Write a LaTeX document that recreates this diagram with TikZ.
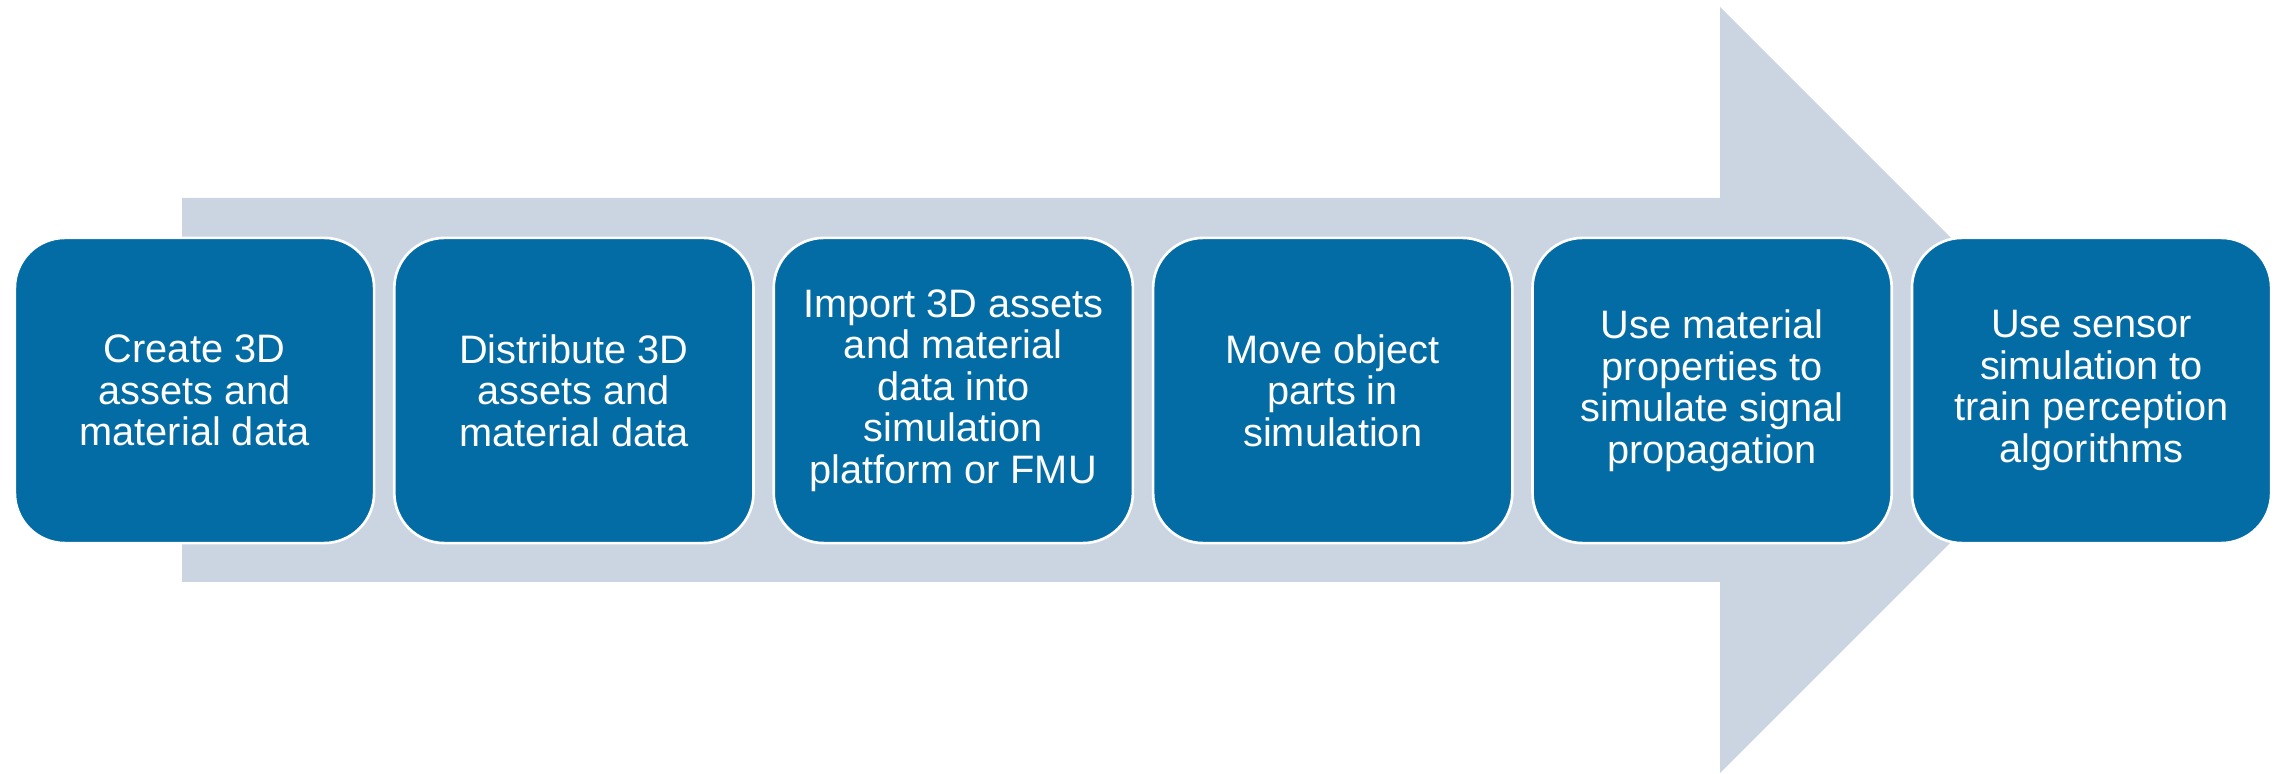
\documentclass[tikz,border=0pt]{standalone}
\usepackage{fontspec}
\setmainfont{Liberation Sans}
\definecolor{boxblue}{RGB}{4,108,165}
\definecolor{arrowgrey}{RGB}{203,213,225}
\begin{document}
\begin{tikzpicture}[x=0.01cm,y=-0.01cm,
  stepbox/.style={draw=white,line width=0.75pt,fill=boxblue,rounded corners=0.5cm,
    minimum width=3.59cm,minimum height=3.05cm,inner sep=0pt,align=center,
    text=white,font=\fontsize{11.3}{11.8}\selectfont}]
\useasboundingbox (0,0) rectangle (2280,774);
\fill[arrowgrey] (182,198) -- (1720,198) -- (1720,7) -- (2103,390) -- (1720,773) -- (1720,582) -- (182,582) -- cycle;
\node[stepbox] (s1) at (194.5,390.5) {Create 3D\\assets and\\material data};
\node[stepbox] (s2) at (573.9,390.5) {Distribute 3D\\assets and\\material data};
\node[stepbox] (s3) at (953.3,390.5) {Import 3D assets\\and material\\data into\\simulation\\platform or FMU};
\node[stepbox] (s4) at (1332.7,390.5) {Move object\\parts in\\simulation};
\node[stepbox] (s5) at (1712.1,390.5) {Use material\\properties to\\simulate signal\\propagation};
\node[stepbox] (s6) at (2091.5,390.5) {Use sensor\\simulation to\\train perception\\algorithms};
\end{tikzpicture}
\end{document}
